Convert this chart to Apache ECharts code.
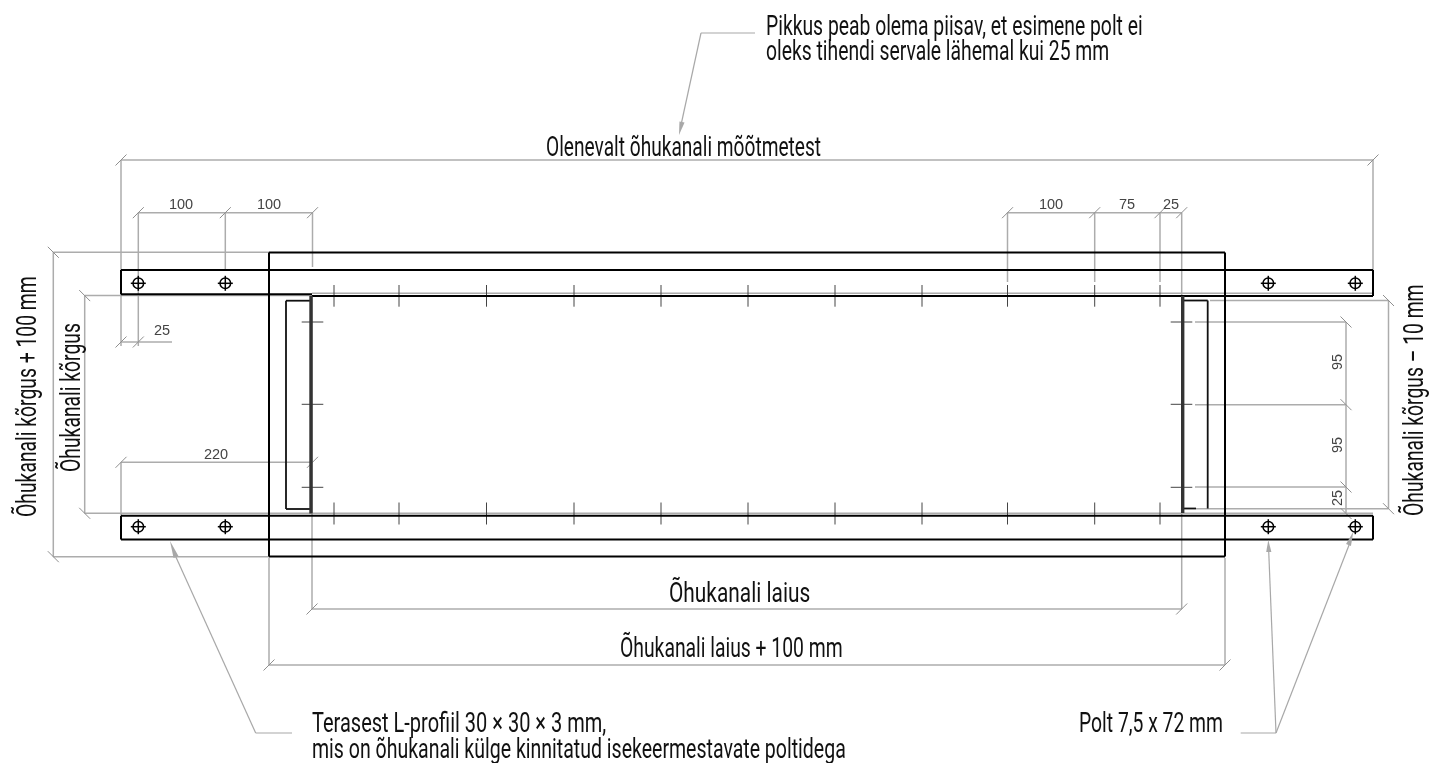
<!DOCTYPE html>
<html><head><meta charset="utf-8">
<style>html,body{margin:0;padding:0;background:#fff}#c{width:1440px;height:763px}</style>
<script src="https://cdn.jsdelivr.net/npm/echarts@6/dist/echarts.min.js"></script></head>
<body><div id="c"></div>
<script>
// Drawing geometry in drawing units: [x1, y1, x2, y2]
const heavyLines = [
 [269,252.5,1225,252.5],[1225,252.5,1225,556.5],[1225,556.5,269,556.5],[269,556.5,269,252.5],
 [121,270,1373,270],[121,270,121,294.3],[121,294.3,312,294.3],[312,296,1373,296],[1373,270,1373,296],
 [121,515.7,1373,515.7],[121,515.7,121,539.5],[121,539.5,1373,539.5],[1373,515.7,1373,539.5]
];
const ductSides = [[311,296,311,513.5],[1182.7,296,1182.7,513]];
const stripLines = [
 [286,300.7,310,300.7],[286,300.7,286,509],[286,509,310,509],
 [1184,300.5,1207.7,300.5],[1207.7,300.5,1207.7,508.5],[1184,508.5,1196,508.5]
];
const dimensionLines = [
 [121,160,1373,160],[121,160,121,346],[1373,160,1373,270],
 [138.3,212.7,312.5,212.7],[138.3,212.7,138.3,346],[225.3,212.7,225.3,270],[312.5,212.7,312.5,267],
 [1007.5,212.7,1181.7,212.7],[1007.5,212.7,1007.5,282],[1094.7,212.7,1094.7,282],[1160,212.7,1160,282],[1181.7,212.7,1181.7,296],
 [53.3,252.3,269,252.3],[53.3,252.3,53.3,556.7],[53.3,556.7,269,556.7],
 [84.7,295.6,312,295.6],[84.7,295.6,84.7,513.3],[84.7,513.3,1373,513.3],
 [121,342,172,342],[121,462.3,312.5,462.3],[121,462.3,121,515],
 [312,296,312,609],[312,609,1181.7,609],[1181.7,508,1181.7,609],
 [269,558,269,665],[269,665,1225,665],[1225,558,1225,665],
 [312,293.3,1373,293.3],[1196,508.7,1388.5,508.7],[1210,300.5,1388.5,300.5],[1388.5,300.5,1388.5,508.7],
 [1195,322,1346,322],[1195,404.7,1346,404.7],[1195,487,1346,487],[1346,322,1346,513.5]
];
const leaderLines = [
 [755,33,701,33],[701,33,681,125],
 [292,733,255.7,733],[255.7,733,175,555],
 [1240.7,733,1276,733],[1276,733,1268.5,546],[1276,733,1351,540]
];
const arrowHeads = [[679,135,682,122],[170,541,176,557],[1268.3,540,1268.8,552],[1353.3,531.7,1348.5,545]];
const forwardSlashes = [[121,160],[1373,160],[138.3,212.7],[225.3,212.7],[312.5,212.7],[1007.5,212.7],[1094.7,212.7],[1160,212.7],[1181.7,212.7],
 [121,342],[138.3,342],[121,462.3],[312.5,462.3],[312,609],[1181.7,609],[269,665],[1225,665]];
const backSlashes = [[53.3,252.3],[53.3,556.7],[84.7,295.6],[84.7,513.3],[1388.5,300.5],[1388.5,508.7],[1346,322],[1346,404.7],[1346,487],[1346,513.5]];
const centreTicksH = [[301.7,322,323.3,322],[301.7,404.3,323.3,404.3],[301.7,487.3,323.3,487.3],
 [1170.7,322,1192.3,322],[1170.7,404.3,1192.3,404.3],[1170.7,487.3,1192.3,487.3]];
const tickXs = [334,399,486.5,574,661,748,835,922,1007.5,1094.7,1160];
const topTickSpan = [285,306.7];
const bottomTickSpan = [502.5,524.5];
const boltXs = [138.3,225.3,1268.3,1355.3];
const boltYs = [283.3,526.7];
// Text rows: [text, x, y, rotation degrees, width factor]
const noteTexts = [
 ['Pikkus peab olema piisav, et esimene polt ei',766,27.5,0,1],
 ['oleks tihendi servale lähemal kui 25 mm',766,52.5,0,1],
 ['Olenevalt õhukanali mõõtmetest',546,148.5,0,0.99],
 ['Õhukanali laius',669,594.5,0,1.08],
 ['Õhukanali laius + 100 mm',620,650,0,1],
 ['Terasest L-profiil 30 × 30 × 3 mm,',312,725,0,1.035],
 ['mis on õhukanali külge kinnitatud isekeermestavate poltidega',312,750.5,0,1.01],
 ['Polt 7,5 x 72 mm',1079,725,0,1],
 ['Õhukanali kõrgus + 100 mm',28.5,517,90,1],
 ['Õhukanali kõrgus',72.5,472,90,1],
 ['Õhukanali kõrgus – 10 mm',1415.5,516,90,1]
];
const dimTexts = [
 ['100',181,204.5,0,1],['100',269,204.5,0,1],['100',1051,204.5,0,1],['75',1127,204.5,0,1],['25',1171,204.5,0,1],
 ['25',162,331,0,1],['220',216,454.5,0,1],
 ['95',1338,362,90,1],['95',1338,445,90,1],['25',1338,498,90,1]
];

const noteFont = '400 28px Roboto';
const dimFont = '14.5px "Liberation Sans"';
const noteSqueeze = 0.69;

function segSeries(name, data, color, width, z){
  return {name, type:'custom', coordinateSystem:'cartesian2d', silent:true, z, data,
    renderItem(p, api){
      const a = api.coord([api.value(0),api.value(1)]), b = api.coord([api.value(2),api.value(3)]);
      return {type:'line', shape:{x1:a[0],y1:a[1],x2:b[0],y2:b[1]}, style:{stroke:color,lineWidth:width,fill:null}};
    }};
}
function slashSeries(name, data, dir){
  const rows = data.map(d=>[d[0]-5.5,d[1]+5.5*dir,d[0]+5.5,d[1]-5.5*dir]);
  return segSeries(name, rows, '#8f8f8f', 1, 3);
}
function textSeries(name, data, font, fill, squeeze, align){
  return {name, type:'custom', coordinateSystem:'cartesian2d', silent:true, z:10,
    data:data.map((d,i)=>[d[1],d[2],d[3],d[4]]),
    renderItem(p, api){
      const c = api.coord([api.value(0),api.value(1)]);
      return {type:'text', x:c[0], y:c[1], rotation:api.value(2)*Math.PI/180, scaleX:squeeze*api.value(3), scaleY:1,
        style:{text:data[p.dataIndex][0], font, fill, textAlign:align, textVerticalAlign:'middle'}};
    }};
}
const arrowSeries = {name:'arrows', type:'custom', coordinateSystem:'cartesian2d', silent:true, z:6, data:arrowHeads,
  renderItem(p, api){
    const t = api.coord([api.value(0),api.value(1)]), b = api.coord([api.value(2),api.value(3)]);
    const dx=b[0]-t[0], dy=b[1]-t[1], l=Math.hypot(dx,dy), nx=-dy/l*2.6, ny=dx/l*2.6;
    return {type:'polygon', shape:{points:[t,[b[0]+nx,b[1]+ny],[b[0]-nx,b[1]-ny]]}, style:{fill:'#a8a8a8'}};
  }};
const boltRows = [];
boltYs.forEach(y=>boltXs.forEach(x=>boltRows.push([x,y])));
const boltSeries = {name:'bolts', type:'custom', coordinateSystem:'cartesian2d', silent:true, z:7, data:boltRows,
  renderItem(p, api){
    const c = api.coord([api.value(0),api.value(1)]);
    const s = {stroke:'#000',lineWidth:1.5,fill:null};
    return {type:'group', children:[
      {type:'circle', shape:{cx:c[0],cy:c[1],r:5.3}, style:s},
      {type:'line', shape:{x1:c[0]-7.5,y1:c[1],x2:c[0]+7.5,y2:c[1]}, style:s},
      {type:'line', shape:{x1:c[0],y1:c[1]-7.5,x2:c[0],y2:c[1]+7.5}, style:s}
    ]};
  }};
const tickRows = centreTicksH.concat(
  tickXs.map(x=>[x,topTickSpan[0],x,topTickSpan[1]]),
  tickXs.map(x=>[x,bottomTickSpan[0],x,bottomTickSpan[1]]));

const chart = echarts.init(document.getElementById('c'), null, {renderer:'canvas'});
chart.setOption({
  animation:false, backgroundColor:'#fff',
  grid:{left:0,right:0,top:0,bottom:0},
  tooltip:{show:false},
  xAxis:{type:'value',min:0,max:1440,show:false},
  yAxis:{type:'value',min:0,max:763,inverse:true,show:false},
  series:[
    segSeries('dimensions',dimensionLines,'#acacac',1.5,2),
    segSeries('leaders',leaderLines,'#a8a8a8',1.2,2),
    slashSeries('slashF',forwardSlashes,1),
    slashSeries('slashB',backSlashes,-1),
    segSeries('ticks',tickRows,'#444',1,4),
    segSeries('heavy',heavyLines,'#000',2,5),
    segSeries('strips',stripLines,'#111',1.8,5),
    segSeries('duct',ductSides,'#333',3.4,5),
    arrowSeries, boltSeries,
    textSeries('notes',noteTexts,noteFont,'#111',noteSqueeze,'left'),
    textSeries('dims',dimTexts,dimFont,'#444',1,'center')
  ]
});
</script></body></html>
